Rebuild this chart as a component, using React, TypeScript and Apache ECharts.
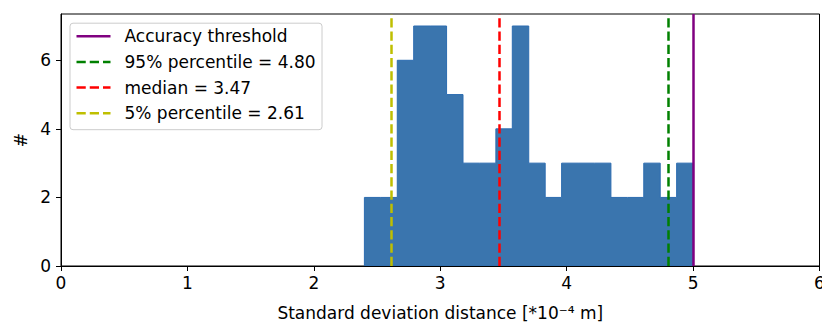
import React, { useEffect, useRef } from "react";
import * as echarts from "echarts";

// Histogram bin edges (×10⁻⁴ m) and counts per bin
const binEdges = [2.40, 2.53, 2.66, 2.79, 2.92, 3.05, 3.18, 3.31, 3.44, 3.57, 3.70, 3.83, 3.96, 4.09, 4.22, 4.35, 4.48, 4.61, 4.74, 4.87, 5.00];
const binCounts = [2, 2, 6, 7, 7, 5, 3, 3, 4, 7, 3, 2, 3, 3, 3, 2, 2, 3, 2, 3];

// Reference lines
const lineLabels = ["Accuracy threshold", "95% percentile = 4.80", "median = 3.47", "5% percentile = 2.61"];
const lineValues = [5.0, 4.80, 3.47, 2.61];
const lineColors = ["#800080", "#008000", "#ff0000", "#bfbf00"];
const lineDashed = [false, true, true, true];

const xTicks = [0, 1, 2, 3, 4, 5, 6];
const yTicks = [0, 2, 4, 6];

const FONT = "DejaVu Sans";
const FS = 17;
const BAR = "#3a75ae";
const BAR_EDGE = "#2c6cb0";

export default function App() {
  const ref = useRef<HTMLDivElement>(null);
  useEffect(() => {
    if (!ref.current) return;
    const chart = echarts.init(ref.current, undefined, { renderer: "svg" });
    const histData = binCounts.map((c, i) => [binEdges[i], binEdges[i + 1], c]);
    const dash = [9.25, 4];

    const legendLeft = 69.5, legendTop = 22.7;
    const legendChildren: any[] = [
      {
        type: "rect",
        shape: { x: 0, y: 0, width: 252, height: 106.5, r: 3 },
        style: { fill: "rgba(255,255,255,0.8)", stroke: "#cccccc", lineWidth: 1 },
      },
    ];
    lineLabels.forEach((lab, i) => {
      const cy = 13 + i * 25.7;
      legendChildren.push({
        type: "line",
        shape: { x1: 6.5, y1: cy, x2: 40.5, y2: cy },
        style: { stroke: lineColors[i], lineWidth: 2.5, lineDash: lineDashed[i] ? dash : null },
      });
      legendChildren.push({
        type: "text",
        x: 54.5,
        y: cy,
        style: { text: lab, fill: "#000", font: `${FS}px "${FONT}"`, verticalAlign: "middle", align: "left" },
      });
    });

    chart.setOption({
      animation: false,
      grid: {
        left: 61, right: 2.5, top: 14, bottom: 58,
        show: true, borderColor: "#000", borderWidth: 1,
        outerBoundsMode: "none", containLabel: false,
      },
      xAxis: {
        type: "value",
        min: 0,
        max: 6,
        interval: 1,
        name: "Standard deviation distance [*10⁻⁴ m]",
        nameLocation: "middle",
        nameGap: 38,
        nameTextStyle: { fontFamily: FONT, fontSize: FS, color: "#000" },
        axisLine: { show: true, lineStyle: { color: "#000", width: 1 } },
        axisTick: { show: true, length: 5, lineStyle: { color: "#000" }, customValues: xTicks },
        axisLabel: { fontFamily: FONT, fontSize: FS, color: "#000", margin: 8, customValues: xTicks, hideOverlap: false },
        splitLine: { show: false },
      },
      yAxis: {
        type: "value",
        min: 0,
        max: 7.35,
        name: "#",
        nameLocation: "middle",
        nameGap: 31,
        nameRotate: 90,
        nameTextStyle: { fontFamily: FONT, fontSize: FS, color: "#000" },
        axisLine: { show: true, lineStyle: { color: "#000", width: 1 } },
        axisTick: { show: true, length: 5, lineStyle: { color: "#000" }, customValues: yTicks },
        axisLabel: { fontFamily: FONT, fontSize: FS, color: "#000", margin: 10, customValues: yTicks },
        splitLine: { show: false },
      },
      series: [
        {
          type: "custom",
          data: histData,
          encode: { x: [0, 1], y: 2 },
          clip: true,
          renderItem: (params: any, api: any) => {
            if (params.dataIndex !== 0) return null;
            const pts: number[][] = [];
            pts.push(api.coord([histData[0][0], 0]));
            histData.forEach((d) => {
              pts.push(api.coord([d[0], d[2]]));
              pts.push(api.coord([d[1], d[2]]));
            });
            pts.push(api.coord([histData[histData.length - 1][1], 0]));
            return {
              type: "polygon",
              shape: { points: pts },
              style: { fill: BAR, stroke: BAR_EDGE, lineWidth: 1 },
            };
          },
          markLine: {
            silent: true,
            symbol: "none",
            label: { show: false },
            animation: false,
            data: lineValues.map((v, i) => ({
              xAxis: v,
              lineStyle: { color: lineColors[i], width: 2.5, type: lineDashed[i] ? dash : "solid" },
            })),
          },
          z: 2,
        },
      ],
      graphic: [
        { type: "group", left: legendLeft, top: legendTop, children: legendChildren, z: 100 },
      ],
    });
    return () => chart.dispose();
  }, []);
  return <div ref={ref} style={{ width: 822, height: 324, position: "absolute", left: 0, top: 0 }} />;
}
